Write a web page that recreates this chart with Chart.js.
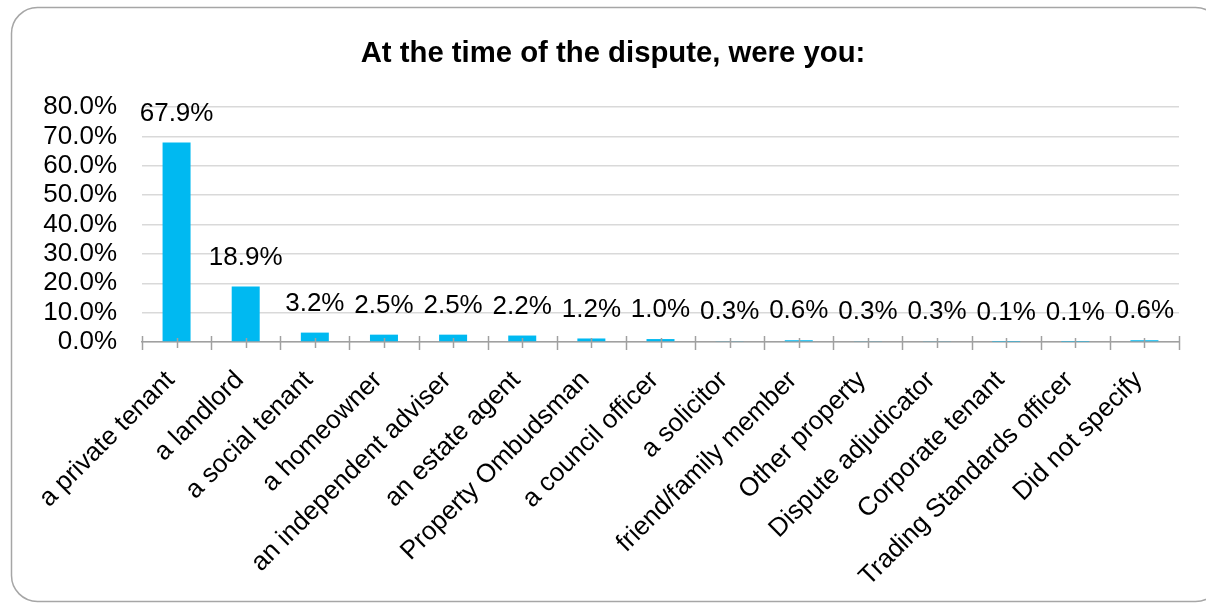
<!DOCTYPE html>
<html><head><meta charset="utf-8">
<script src="https://cdn.jsdelivr.net/npm/chart.js@4/dist/chart.umd.min.js"></script>
<style>html,body{margin:0;padding:0;background:#fff;overflow:hidden}#wrap{width:1206px;height:603px}</style>
</head><body><div id="wrap"><canvas id="c" width="1206" height="603"></canvas></div>
<script>
const chartTitle = 'At the time of the dispute, were you:';
const categories = ['a private tenant','a landlord','a social tenant','a homeowner','an independent adviser','an estate agent','Property Ombudsman','a council officer','a solicitor','friend/family member','Other property','Dispute adjudicator','Corporate tenant','Trading Standards officer','Did not specify'];
const percentages = [67.9,18.9,3.2,2.5,2.5,2.2,1.2,1.0,0.3,0.6,0.3,0.3,0.1,0.1,0.6];
const yMin = 0, yMax = 80, yStep = 10;

const FONT = "'Liberation Sans', Arial, sans-serif";

const frame = {
  id:'frame',
  beforeDraw(chart){
    const ctx = chart.ctx;
    ctx.save();
    ctx.fillStyle = '#fff';
    ctx.fillRect(0,0,chart.width,chart.height);
    const x=11.5,y=7.5,w=1210,h=594,r=26;
    ctx.beginPath();
    ctx.moveTo(x+r,y);
    ctx.lineTo(x+w-r,y);ctx.arcTo(x+w,y,x+w,y+r,r);
    ctx.lineTo(x+w,y+h-r);ctx.arcTo(x+w,y+h,x+w-r,y+h,r);
    ctx.lineTo(x+r,y+h);ctx.arcTo(x,y+h,x,y+h-r,r);
    ctx.lineTo(x,y+r);ctx.arcTo(x,y,x+r,y,r);
    ctx.closePath();
    ctx.strokeStyle='#a6a6a6';ctx.lineWidth=1.5;ctx.stroke();
    ctx.restore();
  },
  afterDraw(chart){
    const ctx = chart.ctx;
    ctx.save();
    ctx.font = 'bold 29.3px '+FONT;
    ctx.fillStyle='#000';ctx.textAlign='center';ctx.textBaseline='middle';
    ctx.fillText(chartTitle, 613, 54);
    ctx.restore();
  }
};

const axisTicks = {
  id:'axisTicks',
  afterDraw(chart){
    const ctx = chart.ctx, xs = chart.scales.x, yb = chart.scales.y.getPixelForValue(0);
    ctx.save();
    ctx.strokeStyle='#a0a0a0';ctx.lineWidth=1.5;
    const n = categories.length;
    const half = (xs.getPixelForValue(1)-xs.getPixelForValue(0))/2;
    for(let i=0;i<n;i++){
      const c = xs.getPixelForValue(i);
      ctx.beginPath();ctx.moveTo(Math.round(c)+0.5,yb-4);ctx.lineTo(Math.round(c)+0.5,yb+6);ctx.stroke();
      const b = c-half;
      ctx.beginPath();ctx.moveTo(Math.round(b)+0.5,yb-6);ctx.lineTo(Math.round(b)+0.5,yb+8);ctx.stroke();
      if(i===n-1){const e=c+half;ctx.beginPath();ctx.moveTo(Math.round(e)+0.5,yb-6);ctx.lineTo(Math.round(e)+0.5,yb+8);ctx.stroke();}
    }
    ctx.restore();
  }
};

const valueLabels = {
  id:'valueLabels',
  afterDatasetsDraw(chart){
    const ctx = chart.ctx;
    const meta = chart.getDatasetMeta(0);
    ctx.save();
    ctx.font = '26px '+FONT;
    ctx.fillStyle='#000';ctx.textAlign='center';ctx.textBaseline='middle';
    meta.data.forEach((bar,i)=>{
      ctx.fillText(percentages[i].toFixed(1)+'%', bar.x, bar.y-29);
    });
    ctx.restore();
  }
};

new Chart(document.getElementById('c'),{
  type:'bar',
  data:{labels:categories,datasets:[{data:percentages,backgroundColor:'#00B9F1',borderWidth:0,categoryPercentage:1,barPercentage:0.405}]},
  options:{
    responsive:false,animation:false,devicePixelRatio:1,
    layout:{padding:{left:0,right:27,top:107,bottom:0}},
    plugins:{
      legend:{display:false},tooltip:{enabled:false},title:{display:false}
    },
    scales:{
      x:{
        grid:{display:true,drawOnChartArea:false,drawTicks:false},
        border:{display:true,color:'#a0a0a0',width:1.5},
        ticks:{autoSkip:false,minRotation:45,maxRotation:45,color:'#000',font:{family:FONT,size:26},padding:23,labelOffset:-6},
        afterFit(s){s.height=261;}
      },
      y:{
        min:yMin,max:yMax,
        grid:{color:'#d9d9d9',lineWidth:1.5,drawTicks:false},
        border:{display:false},
        ticks:{autoSkip:false,stepSize:yStep,color:'#000',font:{family:FONT,size:26},padding:25,callback:v=>Number(v).toFixed(1)+'%'},
        afterFit(s){s.width=142;}
      }
    }
  },
  plugins:[frame,axisTicks,valueLabels]
});
</script></body></html>
